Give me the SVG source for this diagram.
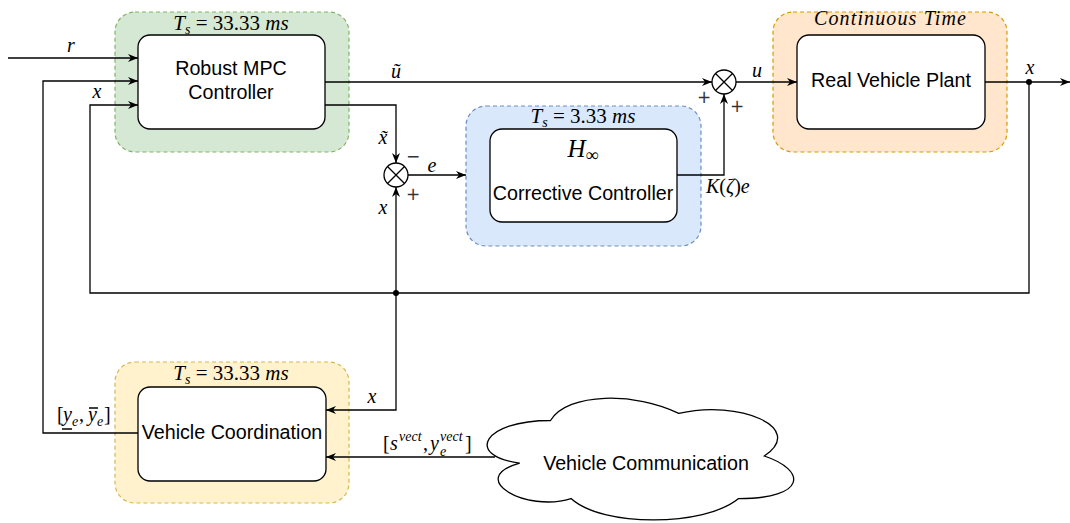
<svg xmlns="http://www.w3.org/2000/svg" width="1070" height="523" viewBox="0 0 1070 523">
  <style>
    .zone { stroke-width: 1.2; stroke-dasharray: 4 3; }
    .box { fill: #ffffff; stroke: #000000; stroke-width: 1.3; }
    .lbl { font-family: "Liberation Sans", Arial, sans-serif; font-size: 19.7px; fill: #000000; text-anchor: middle; }
    .m { font-family: "Liberation Serif", "Times New Roman", serif; font-size: 20px; fill: #000000; }
    .s { font-size: 14px; }
    .i { font-style: italic; }
    .sign { font-family: "DejaVu Sans", sans-serif; font-size: 17px; fill: #333333; text-anchor: middle; }
    .wire { fill: none; stroke: #000000; stroke-width: 1.3; }
    .arr { marker-end: url(#head); }
  </style>
  <defs>
    <marker id="head" viewBox="0 0 10 8" refX="10" refY="4" markerWidth="10" markerHeight="8" markerUnits="userSpaceOnUse" orient="auto">
      <path d="M0,0 L10,4 L0,8 L3,4 Z" fill="#000000"/>
    </marker>
  </defs>
  <rect width="1070" height="523" fill="#ffffff"/>

  <!-- MPC controller, 33.33 ms -->
  <g id="mpc">
    <rect class="zone" x="115" y="12" width="234" height="140" rx="20" fill="#d5e8d4" stroke="#82b366"/>
    <text class="m" x="231" y="30" text-anchor="middle" style="font-size:21px"><tspan class="i">T</tspan><tspan class="i s" dy="4">s</tspan><tspan dy="-4"> = 33.33 </tspan><tspan class="i">ms</tspan></text>
    <rect class="box" x="138" y="35" width="187" height="94" rx="12"/>
    <text class="lbl" x="231" y="75">Robust MPC</text>
    <text class="lbl" x="231" y="99">Controller</text>
  </g>

  <!-- H-infinity corrective controller, 3.33 ms -->
  <g id="corrective">
    <rect class="zone" x="466" y="106" width="235" height="140" rx="20" fill="#dae8fc" stroke="#6c8ebf"/>
    <text class="m" x="583" y="123" text-anchor="middle" style="font-size:21px"><tspan class="i">T</tspan><tspan class="i s" dy="4">s</tspan><tspan dy="-4"> = 3.33 </tspan><tspan class="i">ms</tspan></text>
    <rect class="box" x="490" y="129" width="187" height="93" rx="12"/>
    <text class="m" x="583" y="157" text-anchor="middle" style="font-size:25px"><tspan class="i">H</tspan><tspan style="font-size:18px" dy="4">∞</tspan></text>
    <text class="lbl" x="583" y="200">Corrective Controller</text>
  </g>

  <!-- plant, continuous time -->
  <g id="plant">
    <rect class="zone" x="773" y="12" width="234" height="140" rx="20" fill="#ffe6cc" stroke="#d79b00"/>
    <text class="m i" x="890" y="25" text-anchor="middle" textLength="152">Continuous Time</text>
    <rect class="box" x="797" y="35" width="188" height="94" rx="12"/>
    <text class="lbl" x="891" y="87">Real Vehicle Plant</text>
  </g>

  <!-- coordination layer, 33.33 ms -->
  <g id="coordination">
    <rect class="zone" x="115" y="362" width="234" height="141" rx="20" fill="#fff2cc" stroke="#d6b656"/>
    <text class="m" x="231" y="380" text-anchor="middle" style="font-size:21px"><tspan class="i">T</tspan><tspan class="i s" dy="4">s</tspan><tspan dy="-4"> = 33.33 </tspan><tspan class="i">ms</tspan></text>
    <rect class="box" x="138" y="387" width="188" height="94" rx="12"/>
    <text class="lbl" x="232" y="439">Vehicle Coordination</text>
  </g>

  <!-- V2V communication -->
  <g id="communication">
    <path class="box" d="M550.5,420.5 C482.1,420.5 465,456 519.7,463.1 C465,478.7 526.6,512.8 571,498.6 C601.8,527 704.4,527 738.6,498.6 C807,498.6 807,470.2 764.3,456 C807,427.6 738.6,399.2 678.8,413.4 C636,392.1 567.6,392.1 550.5,420.5 Z"/>
    <text class="lbl" x="646" y="470">Vehicle Communication</text>
  </g>

  <!-- summing junctions -->
  <g id="sum-u">
    <circle cx="724" cy="82" r="12" fill="#ffffff" stroke="#000000" stroke-width="1.3"/>
    <path class="wire" d="M715.5,73.5 L732.5,90.5 M732.5,73.5 L715.5,90.5"/>
  </g>
  <g id="sum-e">
    <circle cx="396" cy="175" r="12" fill="#ffffff" stroke="#000000" stroke-width="1.3"/>
    <path class="wire" d="M387.5,166.5 L404.5,183.5 M404.5,166.5 L387.5,183.5"/>
  </g>

  <g id="connectors">
    <path class="wire arr" d="M8,58 H138"/>
    <path class="wire arr" d="M138,433 H43 V81 H138"/>
    <path class="wire arr" d="M1029,82 V293 H90 V105 H138"/>
    <path class="wire arr" d="M325,82 H712"/>
    <path class="wire arr" d="M325,105 H396 V163"/>
    <path class="wire arr" d="M408,175 H466"/>
    <path class="wire arr" d="M677,175 H724 V94"/>
    <path class="wire arr" d="M736,82 H797"/>
    <path class="wire arr" d="M985,82 H1070"/>
    <path class="wire arr" d="M396,293 V187"/>
    <path class="wire arr" d="M396,293 V410 H326"/>
    <path class="wire arr" d="M495,457 H326"/>
    <circle cx="1029" cy="82" r="3"/>
    <circle cx="396" cy="293" r="3"/>
  </g>

  <g id="connector-labels">
    <text class="m i" x="71" y="52" text-anchor="middle">r</text>
    <text class="m i" x="97" y="98" text-anchor="middle">x</text>
    <text class="m i" x="396" y="78" text-anchor="middle">u&#x303;</text>
    <text class="m i" x="383" y="144" text-anchor="middle">x&#x303;</text>
    <text class="sign" x="413" y="162">−</text>
    <text class="sign" x="413" y="200">+</text>
    <text class="m i" x="432" y="172" text-anchor="middle">e</text>
    <text class="m i" x="383" y="214" text-anchor="middle">x</text>
    <text class="sign" x="704" y="103">+</text>
    <text class="sign" x="737" y="112">+</text>
    <text class="m i" x="757" y="77" text-anchor="middle">u</text>
    <text class="m" x="706" y="193"><tspan class="i">K</tspan>(<tspan class="i">ζ</tspan>)<tspan class="i">e</tspan></text>
    <text class="m i" x="1030" y="74" text-anchor="middle">x</text>
    <text class="m i" x="372" y="403" text-anchor="middle">x</text>
    <text class="m" y="421"><tspan x="57">[</tspan><tspan class="i" x="63">y</tspan><tspan class="i s" x="72" y="426">e</tspan><tspan x="79" y="421">,</tspan><tspan class="i" x="88">y</tspan><tspan class="i s" x="97" y="426">e</tspan><tspan x="104" y="421">]</tspan></text>
    <path class="wire" d="M62,429 H72 M89,408 H98" stroke-width="1.1"/>
    <text class="m" y="450"><tspan x="383">[</tspan><tspan class="i" x="390">s</tspan><tspan class="i s" x="399" y="441">vect</tspan><tspan x="423" y="450">,</tspan><tspan class="i" x="430">y</tspan><tspan class="i s" x="440" y="441">vect</tspan><tspan class="i s" x="440" y="456">e</tspan><tspan x="465" y="450">]</tspan></text>
  </g>
</svg>
